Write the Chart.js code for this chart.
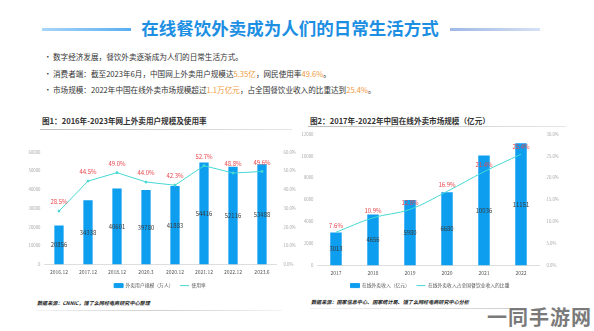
<!DOCTYPE html>
<html>
<head>
<meta charset="utf-8">
<script src="https://cdn.jsdelivr.net/npm/chart.js@4.4.0/dist/chart.umd.min.js"></script>
<style>
  html, body { margin: 0; padding: 0; background: #fff; }
  body { width: 594px; height: 331px; position: relative; overflow: hidden;
         font-family: "Noto Sans CJK SC", "Noto Sans", sans-serif; color: #333; }
  .abs { position: absolute; white-space: nowrap; }
  #headline { left: 0; width: 580px; top: 18px; text-align: center; font-size: 17.5px; line-height: 20px;
              font-weight: 700; color: #1d8fe3; }
  .deco { position: absolute; height: 3px; }
  #decoL { left: 42px; width: 89px; top: 28px; background: linear-gradient(to right, #a9d5f8, #5aaff0); }
  #decoR { left: 450px; width: 90px; top: 28px; background: linear-gradient(to right, #9fb8e6, #d5e0f3); }
  .bullet { left: 44px; font-size: 7.6px; line-height: 10px; color: #333; }
  .bullet b { font-weight: 400; color: #f09a3e; }
  .dot { display: inline-block; width: 9px; }
  .ctitle { font-size: 7.6px; line-height: 10px; font-weight: 700; color: #333; }
  .rule { position: absolute; height: 1px; }
  .src { font-size: 5.1px; line-height: 7px; font-weight: 700; font-style: italic; color: #222; }
  #mark { right: 2px; top: 305px; font-size: 20px; line-height: 24px; font-weight: 700; color: #7a7a7a;
          letter-spacing: 1px; text-shadow: 0 0 2px #fff, 0 0 2px #fff; }
  canvas { position: absolute; }
</style>
</head>
<body>
<div id="headline" class="abs">在线餐饮外卖成为人们的日常生活方式</div>
<div id="decoL" class="deco"></div>
<div id="decoR" class="deco"></div>

<div class="abs bullet" style="top:52px"><span class="dot">•</span>数字经济发展，餐饮外卖逐渐成为人们的日常生活方式。</div>
<div class="abs bullet" style="top:69px"><span class="dot">•</span>消费者端：截至2023年6月，中国网上外卖用户规模达<b>5.35亿</b>，网民使用率<b>49.6%</b>。</div>
<div class="abs bullet" style="top:85px"><span class="dot">•</span>市场规模：2022年中国在线外卖市场规模超过<b>1.1万亿元</b>，占全国餐饮业收入的比重达到<b>25.4%</b>。</div>

<div class="abs ctitle" style="left:42px; top:116px">图1：2016年-2023年网上外卖用户规模及使用率</div>
<div class="rule" style="left:40px; top:129px; width:252px; background:linear-gradient(to right,#bdbdbd,#e6e6e6)"></div>
<div class="abs ctitle" style="left:310px; top:116px">图2：2017年-2022年中国在线外卖市场规模（亿元）</div>
<div class="rule" style="left:308px; top:126px; width:258px; background:linear-gradient(to right,#bdbdbd,#e6e6e6)"></div>

<canvas id="users" width="280" height="158" style="left:20px; top:140px"></canvas>
<canvas id="market" width="270" height="176" style="left:295px; top:122px"></canvas>

<div class="abs src" style="left:37px; top:299px">数据来源：CNNIC，饿了么网经电商研究中心整理</div>
<div class="rule" style="left:36px; top:310px; width:246px; background:linear-gradient(to right,#f3f3f3,#cfcfcf,#f3f3f3)"></div>
<div class="abs src" style="left:311px; top:298px">数据来源：国家信息中心、国家统计局、饿了么网经电商研究中心分析</div>
<div class="rule" style="left:310px; top:308px; width:200px; background:linear-gradient(to right,#f3f3f3,#cfcfcf)"></div>

<div id="mark" class="abs">一同手游网</div>

<script>
// Figure 1: online food-delivery users (10k people) and usage rate (%)
const userPeriods = ['2016.12', '2017.12', '2018.12', '2020.3', '2020.12', '2021.12', '2022.12', '2023.6'];
const userCounts  = [20856, 34338, 40601, 39780, 41883, 54416, 52116, 53488];
const userRates   = [28.5, 44.5, 49.0, 44.0, 42.3, 52.7, 48.8, 49.6];

// Figure 2: online food-delivery revenue (100M yuan) and share of catering revenue (%)
const marketYears   = ['2017', '2018', '2019', '2020', '2021', '2022'];
const marketRevenue = [3013, 4656, 5980, 6680, 10036, 11151];
const marketShare   = [7.6, 10.9, 12.8, 16.9, 21.4, 25.4];

const FONT = '"Noto Sans CJK SC", "Noto Sans", sans-serif';
const BAR_BLUE = '#0d9ef0';
const LINE_TEAL = '#45d8d3';

// Writes the bar values mid-bar and the percentages above the line points
const valueLabels = {
  id: 'valueLabels',
  afterDatasetsDraw(chart, args, opts) {
    const ctx = chart.ctx;
    ctx.save();
    ctx.textAlign = 'center';
    ctx.textBaseline = 'middle';
    chart.data.datasets.forEach((ds, i) => {
      const meta = chart.getDatasetMeta(i);
      meta.data.forEach((el, j) => {
        const v = ds.data[j];
        if (ds.type === 'bar') {
          ctx.font = '5.9px ' + FONT;
          ctx.fillStyle = '#3a3a3a';
          ctx.fillText(String(v), el.x, (el.y + el.base) / 2);
        } else {
          ctx.font = '6px ' + FONT;
          ctx.fillStyle = '#e8454b';
          ctx.fillText(v.toFixed(1) + '%', el.x, el.y - opts.offset);
        }
      });
    });
    ctx.restore();
  }
};

function comboChart(id, cats, bars, rates, cfg) {
  return new Chart(document.getElementById(id), {
    data: {
      labels: cats,
      datasets: [
        {
          type: 'line', label: cfg.lineLabel, data: rates, yAxisID: 'y1', order: 0,
          borderColor: LINE_TEAL, backgroundColor: LINE_TEAL, borderWidth: 1,
          pointRadius: cfg.pointRadius, pointBorderWidth: 0, tension: cfg.tension
        },
        {
          type: 'bar', label: cfg.barLabel, data: bars, yAxisID: 'y', order: 1,
          backgroundColor: BAR_BLUE, borderWidth: 0,
          categoryPercentage: 1, barPercentage: cfg.barPct
        }
      ]
    },
    options: {
      responsive: false,
      animation: false,
      layout: { padding: { top: 12, left: 0, right: 0, bottom: 0 } },
      plugins: {
        tooltip: { enabled: false },
        valueLabels: { offset: cfg.labelOffset },
        legend: {
          position: 'bottom',
          reverse: true,
          labels: {
            font: { family: FONT, size: 4.8 },
            color: '#555',
            padding: 6.6,
            usePointStyle: true,
            pointStyleWidth: 9,
            boxHeight: 4,
            generateLabels(chart) {
              const items = Chart.defaults.plugins.legend.labels.generateLabels(chart);
              items.forEach(it => {
                const ds = chart.data.datasets[it.datasetIndex];
                it.pointStyle = ds.type === 'bar' ? 'rect' : 'line';
                it.strokeStyle = ds.type === 'bar' ? BAR_BLUE : LINE_TEAL;
                it.lineWidth = 1;
              });
              return items;
            }
          }
        }
      },
      scales: {
        x: {
          grid: { display: false, drawTicks: false },
          border: { display: true, color: '#d6d6d6', width: 0.8 },
          ticks: { font: { family: FONT, size: 5 }, color: '#555', padding: 4, maxRotation: 0, autoSkip: false },
          afterFit(s) { s.height = cfg.xH; }
        },
        y: {
          position: 'left', min: 0, max: cfg.leftMax,
          grid: { display: false, drawTicks: false }, border: { display: false },
          ticks: { stepSize: cfg.leftStep, font: { family: FONT, size: 4.3 }, color: '#a9a9a9', padding: 4,
                   callback: v => String(v) },
          afterFit(s) { s.width = cfg.leftW; }
        },
        y1: {
          position: 'right', min: 0, max: cfg.rightMax,
          grid: { display: false, drawTicks: false }, border: { display: false },
          ticks: { stepSize: cfg.rightStep, font: { family: FONT, size: 4.3 }, color: '#a9a9a9', padding: 7,
                   callback: v => v.toFixed(1) + '%' },
          afterFit(s) { s.width = cfg.rightW; }
        }
      }
    },
    plugins: [valueLabels]
  });
}

comboChart('users', userPeriods, userCounts, userRates, {
  barLabel: '外卖用户规模（万人）', lineLabel: '使用率',
  leftMax: 60000, leftStep: 10000, rightMax: 60, rightStep: 10,
  leftW: 24.5, rightW: 23.5, xH: 12, barPct: 0.32,
  pointRadius: 1.4, tension: 0, labelOffset: 9
});

comboChart('market', marketYears, marketRevenue, marketShare, {
  barLabel: '在线外卖收入（亿元）', lineLabel: '在线外卖收入占全国餐饮业收入的比重',
  leftMax: 12000, leftStep: 2000, rightMax: 30, rightStep: 5,
  leftW: 22.5, rightW: 25.5, xH: 11, barPct: 0.31,
  pointRadius: 0, tension: 0.35, labelOffset: 7
});
</script>
</body>
</html>
